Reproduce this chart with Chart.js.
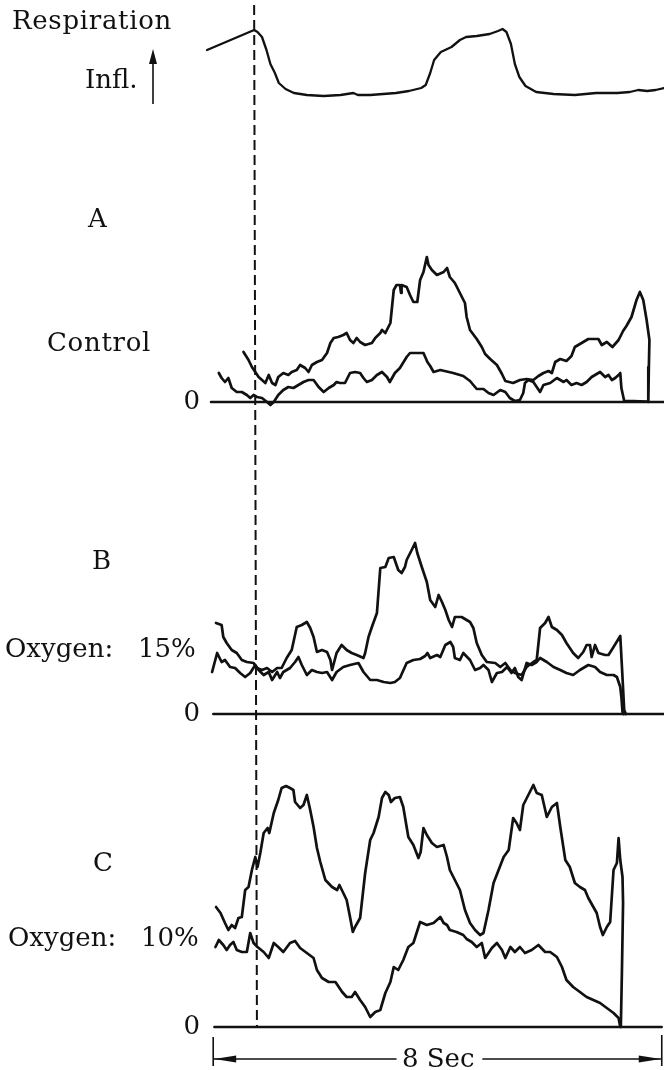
<!DOCTYPE html>
<html>
<head>
<meta charset="utf-8">
<script src="https://cdn.jsdelivr.net/npm/chart.js@4/dist/chart.umd.min.js"></script>
<style>
html, body { margin: 0; padding: 0; background: #fff; }
#wrap { position: relative; width: 664px; height: 1070px; }
#chart { position: absolute; left: 0; top: 0; }
.lbl { position: absolute; font-family: "DejaVu Serif", serif; font-size: 26px; line-height: 1; color: #111; white-space: pre; }
.wide { letter-spacing: 0.7px; }
</style>
</head>
<body>
<div id="wrap">
	<canvas id="chart" width="664" height="1070"></canvas>
	<div class="lbl wide" style="left:12px;top:7px">Respiration</div>
	<div class="lbl" style="left:85px;top:66px">Infl.</div>
	<div class="lbl" style="left:88px;top:205px">A</div>
	<div class="lbl wide" style="left:47px;top:329px">Control</div>
	<div class="lbl" style="left:92px;top:547px">B</div>
	<div class="lbl" style="left:5px;top:635px">Oxygen:   15%</div>
	<div class="lbl" style="left:93px;top:849px">C</div>
	<div class="lbl" style="left:8px;top:924px">Oxygen:   10%</div>
	<div class="lbl" style="left:402px;top:1045px">8 Sec</div>
</div>
<script>
// time in seconds, amplitude in arbitrary units above each trace's zero line
const respTime = [-0.11, 0.73, 0.79, 0.87, 0.95, 1.02, 1.10, 1.17, 1.29, 1.44, 1.67, 1.97, 2.27, 2.50, 2.58, 2.80, 3.03, 3.26, 3.49, 3.71, 3.79, 3.87, 3.94, 4.06, 4.25, 4.40, 4.51, 4.70, 4.93, 5.08, 5.16, 5.23, 5.31, 5.38, 5.46, 5.57, 5.76, 6.07, 6.45, 6.83, 7.21, 7.43, 7.58, 7.74, 7.89, 8.04];
const respValue = [45, 65, 63, 58, 45, 31, 22, 12, 6, 2, 0, -1, 0, 2, 0, 0, 1, 2, 4, 7, 10, 22, 35, 43, 48, 55, 58, 59, 61, 64, 66, 63, 51, 31, 18, 9, 3, 1, 0, 2, 2, 3, 5, 4, 5, 7];

const ctrlHighTime = [0.54, 0.63, 0.69, 0.75, 0.81, 0.87, 0.93, 0.99, 1.05, 1.11, 1.16, 1.25, 1.34, 1.40, 1.49, 1.55, 1.64, 1.70, 1.76, 1.85, 1.94, 2.03, 2.09, 2.15, 2.23, 2.32, 2.38, 2.44, 2.50, 2.56, 2.62, 2.71, 2.83, 2.89, 2.98, 3.01, 3.07, 3.16, 3.22, 3.27, 3.33, 3.35, 3.36, 3.45, 3.51, 3.57, 3.64, 3.69, 3.75, 3.81, 3.84, 3.90, 3.99, 4.11, 4.17, 4.22, 4.31, 4.40, 4.49, 4.52, 4.58, 4.70, 4.79, 4.85, 4.94, 5.06, 5.15, 5.21, 5.35, 5.47, 5.59, 5.71, 5.80, 5.89, 5.98, 6.04, 6.10, 6.19, 6.30, 6.39, 6.45, 6.57, 6.69, 6.78, 6.87, 6.93, 7.02, 7.12, 7.23, 7.31, 7.37, 7.46, 7.55, 7.61, 7.67, 7.73, 7.78, 7.77, 7.76, 7.76];
const ctrlHighValue = [50, 42, 35, 30, 25, 22, 19, 27, 19, 17, 25, 29, 27, 30, 32, 37, 34, 30, 37, 40, 42, 49, 59, 64, 65, 67, 69, 62, 59, 64, 60, 57, 59, 64, 69, 72, 69, 79, 112, 117, 117, 109, 117, 115, 107, 100, 100, 122, 130, 145, 137, 132, 127, 130, 134, 125, 119, 109, 99, 85, 72, 63, 55, 48, 43, 37, 28, 21, 19, 22, 23, 22, 26, 29, 31, 29, 40, 43, 41, 46, 55, 59, 63, 63, 63, 57, 60, 55, 62, 71, 76, 85, 102, 110, 102, 82, 62, 35, 10, 0];

const ctrlLowTime = [0.10, 0.15, 0.21, 0.27, 0.33, 0.42, 0.51, 0.60, 0.66, 0.72, 0.78, 0.87, 0.96, 1.02, 1.08, 1.16, 1.25, 1.34, 1.43, 1.52, 1.61, 1.70, 1.79, 1.88, 1.97, 2.06, 2.15, 2.20, 2.26, 2.35, 2.44, 2.53, 2.62, 2.68, 2.74, 2.83, 2.92, 3.01, 3.10, 3.15, 3.24, 3.33, 3.45, 3.51, 3.63, 3.75, 3.82, 3.87, 3.93, 4.05, 4.28, 4.46, 4.58, 4.70, 4.82, 4.91, 5.00, 5.12, 5.21, 5.29, 5.38, 5.47, 5.53, 5.56, 5.62, 5.71, 5.77, 5.83, 5.89, 6.01, 6.13, 6.25, 6.30, 6.39, 6.48, 6.57, 6.66, 6.75, 6.90, 6.99, 7.05, 7.11, 7.17, 7.23, 7.26, 7.28, 7.33, 7.49, 7.73];
const ctrlLowValue = [29, 24, 20, 24, 14, 10, 10, 7, 4, 7, 5, 4, 0, -3, 0, 7, 12, 15, 14, 17, 20, 22, 22, 15, 10, 14, 17, 20, 19, 19, 29, 30, 29, 24, 20, 22, 27, 30, 25, 20, 29, 34, 45, 49, 49, 49, 40, 36, 30, 32, 29, 26, 21, 13, 13, 9, 7, 12, 10, 4, 1, 2, 9, 19, 22, 20, 15, 10, 17, 19, 24, 20, 22, 17, 19, 17, 20, 25, 30, 25, 27, 22, 24, 27, 29, 14, 1, 1, 0.5];

const o15HighTime = [0.05, 0.15, 0.18, 0.24, 0.33, 0.42, 0.51, 0.60, 0.72, 0.78, 0.87, 0.96, 1.05, 1.14, 1.22, 1.31, 1.40, 1.49, 1.58, 1.67, 1.73, 1.79, 1.85, 1.94, 2.03, 2.09, 2.12, 2.20, 2.29, 2.38, 2.47, 2.56, 2.68, 2.71, 2.77, 2.83, 2.92, 2.98, 3.07, 3.13, 3.22, 3.30, 3.36, 3.42, 3.45, 3.54, 3.60, 3.64, 3.72, 3.81, 3.87, 3.96, 4.02, 4.08, 4.14, 4.20, 4.26, 4.31, 4.43, 4.58, 4.64, 4.70, 4.79, 4.88, 5.03, 5.12, 5.21, 5.30, 5.38, 5.50, 5.59, 5.71, 5.77, 5.83, 5.92, 5.98, 6.04, 6.13, 6.22, 6.30, 6.42, 6.51, 6.60, 6.66, 6.72, 6.75, 6.81, 6.87, 6.99, 7.05, 7.14, 7.26, 7.29, 7.33, 7.36];
const o15HighValue = [91, 89, 77, 71, 64, 61, 54, 52, 51, 46, 44, 46, 42, 46, 46, 56, 64, 87, 89, 92, 86, 77, 62, 64, 62, 54, 44, 61, 69, 64, 61, 59, 56, 61, 77, 87, 101, 146, 147, 156, 157, 144, 141, 147, 154, 164, 171, 161, 147, 132, 114, 107, 119, 112, 104, 94, 87, 97, 97, 92, 86, 71, 59, 52, 51, 47, 51, 44, 41, 39, 47, 52, 54, 86, 91, 97, 87, 84, 79, 71, 61, 56, 62, 69, 69, 57, 69, 61, 59, 59, 67, 78, 47, 4, 0];

const o15LowTime = [-0.02, 0.07, 0.15, 0.21, 0.30, 0.39, 0.48, 0.57, 0.66, 0.75, 0.81, 0.90, 0.99, 1.05, 1.14, 1.19, 1.25, 1.37, 1.46, 1.52, 1.58, 1.67, 1.76, 1.85, 1.94, 2.03, 2.12, 2.20, 2.32, 2.44, 2.59, 2.68, 2.80, 2.92, 3.04, 3.16, 3.24, 3.33, 3.45, 3.57, 3.69, 3.78, 3.82, 3.87, 3.99, 4.05, 4.14, 4.23, 4.28, 4.31, 4.40, 4.46, 4.58, 4.67, 4.76, 4.82, 4.91, 4.97, 5.06, 5.15, 5.24, 5.32, 5.38, 5.44, 5.50, 5.59, 5.68, 5.77, 5.83, 5.95, 6.07, 6.19, 6.30, 6.42, 6.54, 6.69, 6.81, 6.90, 7.02, 7.14, 7.20, 7.26, 7.28, 7.30, 7.32];
const o15LowValue = [42, 61, 52, 54, 47, 46, 41, 37, 41, 49, 44, 39, 42, 34, 42, 36, 42, 46, 52, 57, 49, 39, 44, 42, 41, 42, 34, 42, 47, 49, 51, 42, 34, 34, 32, 31, 32, 36, 51, 54, 55, 58, 61, 56, 59, 57, 69, 72, 67, 56, 54, 61, 54, 44, 46, 49, 44, 32, 41, 42, 47, 41, 46, 37, 34, 51, 49, 52, 56, 52, 47, 44, 41, 39, 44, 49, 47, 42, 39, 39, 37, 27, 17, 2, 0];

const o10HighTime = [0.05, 0.13, 0.21, 0.27, 0.33, 0.39, 0.45, 0.51, 0.57, 0.63, 0.69, 0.75, 0.79, 0.84, 0.90, 0.97, 1.00, 1.08, 1.16, 1.22, 1.30, 1.37, 1.43, 1.46, 1.55, 1.61, 1.67, 1.73, 1.79, 1.85, 1.91, 2.00, 2.12, 2.21, 2.25, 2.32, 2.38, 2.44, 2.49, 2.53, 2.62, 2.71, 2.80, 2.86, 2.95, 3.01, 3.07, 3.13, 3.17, 3.24, 3.33, 3.39, 3.48, 3.57, 3.66, 3.70, 3.75, 3.81, 3.90, 3.99, 4.11, 4.17, 4.22, 4.31, 4.40, 4.49, 4.58, 4.67, 4.76, 4.82, 4.91, 5.00, 5.09, 5.18, 5.27, 5.35, 5.41, 5.47, 5.53, 5.62, 5.71, 5.77, 5.86, 5.95, 6.04, 6.13, 6.19, 6.28, 6.36, 6.45, 6.54, 6.63, 6.69, 6.78, 6.84, 6.90, 6.95, 7.02, 7.08, 7.14, 7.20, 7.23, 7.26, 7.30, 7.31, 7.29, 7.27];
const o10HighValue = [120, 114, 104, 97, 102, 99, 109, 110, 137, 140, 157, 170, 160, 174, 194, 199, 194, 214, 227, 239, 241, 239, 237, 225, 219, 222, 232, 217, 200, 179, 165, 147, 140, 137, 142, 134, 127, 110, 95, 100, 109, 154, 187, 194, 210, 229, 235, 232, 225, 229, 230, 220, 190, 182, 169, 175, 199, 192, 184, 180, 182, 170, 157, 147, 137, 117, 104, 97, 92, 94, 117, 144, 157, 170, 177, 209, 204, 197, 222, 232, 242, 234, 232, 210, 220, 224, 200, 167, 160, 144, 140, 137, 129, 120, 114, 100, 92, 100, 105, 157, 164, 189, 167, 150, 124, 57, 0];

const o10LowTime = [0.04, 0.10, 0.18, 0.24, 0.30, 0.36, 0.42, 0.51, 0.60, 0.66, 0.72, 0.79, 0.90, 0.99, 1.08, 1.16, 1.25, 1.37, 1.46, 1.55, 1.67, 1.79, 1.85, 1.94, 2.06, 2.18, 2.30, 2.38, 2.47, 2.53, 2.62, 2.71, 2.80, 2.89, 2.98, 3.07, 3.16, 3.22, 3.30, 3.39, 3.48, 3.57, 3.69, 3.81, 3.93, 4.05, 4.11, 4.17, 4.22, 4.34, 4.46, 4.52, 4.61, 4.70, 4.79, 4.85, 4.97, 5.06, 5.15, 5.21, 5.30, 5.38, 5.47, 5.56, 5.68, 5.80, 5.92, 6.01, 6.13, 6.22, 6.30, 6.42, 6.54, 6.66, 6.78, 6.90, 7.02, 7.14, 7.23, 7.26];
const o10LowValue = [80, 87, 82, 77, 82, 85, 77, 75, 75, 94, 84, 80, 75, 69, 84, 80, 75, 84, 86, 79, 74, 69, 57, 49, 45, 45, 35, 30, 30, 35, 27, 20, 10, 15, 17, 34, 45, 60, 57, 67, 80, 84, 105, 102, 104, 110, 104, 102, 97, 95, 92, 88, 85, 80, 84, 69, 79, 84, 77, 69, 80, 75, 80, 74, 77, 82, 75, 75, 70, 60, 47, 40, 35, 30, 27, 24, 19, 14, 9, 0];

// zero lines of the three recordings: [start, end] in seconds
const zeroSpanA = [-0.04, 8.04];
const zeroSpanB = [0.0, 8.04];
const zeroSpanC = [0.02, 8.0];

// dashed marker of inflation onset (top, bottom) in seconds
const markerTime = [0.73, 0.78];
const scaleBarSec = 8;

const ink = "#111";
const serif = "'DejaVu Serif', serif";

function pts(t, v) {
	return t.map((s, i) => ({ x: s, y: v[i] }));
}

function zeroLine(span, axis) {
	return {
		data: [{ x: span[0], y: 0 }, { x: span[1], y: 0 }],
		yAxisID: axis,
		borderColor: ink,
		borderWidth: 2.4
	};
}

function trace(t, v, axis, w) {
	return { data: pts(t, v), yAxisID: axis, borderColor: ink, borderWidth: w || 2.7 };
}

function panelAxis(weight, stackWeight, min, max, showZero) {
	return {
		type: "linear",
		position: "left",
		stack: "panels",
		stackWeight: stackWeight,
		weight: weight,
		min: min,
		max: max,
		grid: { display: false, drawTicks: false },
		border: { display: false },
		ticks: {
			display: showZero,
			padding: 2,
			color: ink,
			font: { family: serif, size: 26 }
		},
		afterBuildTicks: (axis) => { axis.ticks = [{ value: 0 }]; },
		afterFit: (axis) => {
			axis.width = 20;
			axis.paddingTop = 0;
			axis.paddingBottom = 0;
		}
	};
}

function arrowHead(ctx, tipX, tipY, dx, dy, len, half) {
	ctx.beginPath();
	ctx.moveTo(tipX, tipY);
	ctx.lineTo(tipX - dx * len - dy * half, tipY - dy * len - dx * half);
	ctx.lineTo(tipX - dx * len + dy * half, tipY - dy * len + dx * half);
	ctx.closePath();
	ctx.fill();
}

const decorations = {
	id: "decorations",
	afterDraw(chart) {
		let ctx = chart.ctx;
		let x = chart.scales.x;
		let yR = chart.scales.yR;
		let yC = chart.scales.yC;
		ctx.save();
		ctx.strokeStyle = ink;
		ctx.fillStyle = ink;

		// dashed line through all records
		ctx.lineWidth = 2;
		ctx.setLineDash([10, 5]);
		ctx.beginPath();
		ctx.moveTo(x.getPixelForValue(markerTime[0]), yR.getPixelForValue(90));
		ctx.lineTo(x.getPixelForValue(markerTime[1]), yC.getPixelForValue(0));
		ctx.stroke();
		ctx.setLineDash([]);

		// 8 sec bar
		let x0 = x.getPixelForValue(0);
		let x8 = x.getPixelForValue(scaleBarSec);
		let by = 1059;
		ctx.lineWidth = 1.6;
		ctx.beginPath();
		ctx.moveTo(x0, 1037); ctx.lineTo(x0, 1066);
		ctx.moveTo(x8, 1035); ctx.lineTo(x8, 1066);
		ctx.moveTo(x0, by); ctx.lineTo(x.getPixelForValue(3.27), by);
		ctx.moveTo(x.getPixelForValue(4.8), by); ctx.lineTo(x8, by);
		ctx.stroke();
		arrowHead(ctx, x0 + 1, by, -1, 0, 22, 3.5);
		arrowHead(ctx, x8 - 1, by, 1, 0, 22, 3.5);

		// inflation arrow
		ctx.lineWidth = 1.6;
		ctx.beginPath();
		ctx.moveTo(153, 104);
		ctx.lineTo(153, 60);
		ctx.stroke();
		arrowHead(ctx, 153, 49, 0, -1, 15, 4);
		ctx.restore();
	}
};

const ch = new Chart(document.getElementById("chart"), {
	type: "line",
	data: {
		datasets: [
			trace(respTime, respValue, "yR", 2.3),
			zeroLine(zeroSpanA, "yA"),
			trace(ctrlHighTime, ctrlHighValue, "yA"),
			trace(ctrlLowTime, ctrlLowValue, "yA"),
			zeroLine(zeroSpanB, "yB"),
			trace(o15HighTime, o15HighValue, "yB"),
			trace(o15LowTime, o15LowValue, "yB"),
			zeroLine(zeroSpanC, "yC"),
			trace(o10HighTime, o10HighValue, "yC"),
			trace(o10LowTime, o10LowValue, "yC")
		]
	},
	options: {
		responsive: false,
		animation: false,
		devicePixelRatio: 1,
		layout: { padding: { left: 182, right: 0, top: 0, bottom: 40 } },
		datasets: {
			line: {
				pointRadius: 0,
				tension: 0,
				fill: false,
				borderJoinStyle: "round",
				borderCapStyle: "round"
			}
		},
		plugins: {
			colors: { enabled: false },
			legend: { display: false },
			tooltip: { enabled: false }
		},
		scales: {
			x: { type: "linear", min: -0.2, max: 8.04, display: false },
			yC: panelAxis(1, 310, -3, 307, true),
			yB: panelAxis(2, 310, -6, 304, true),
			yA: panelAxis(3, 300, -8, 292, true),
			yR: panelAxis(4, 110, -15, 95, false)
		}
	},
	plugins: [decorations]
});
</script>
</body>
</html>
